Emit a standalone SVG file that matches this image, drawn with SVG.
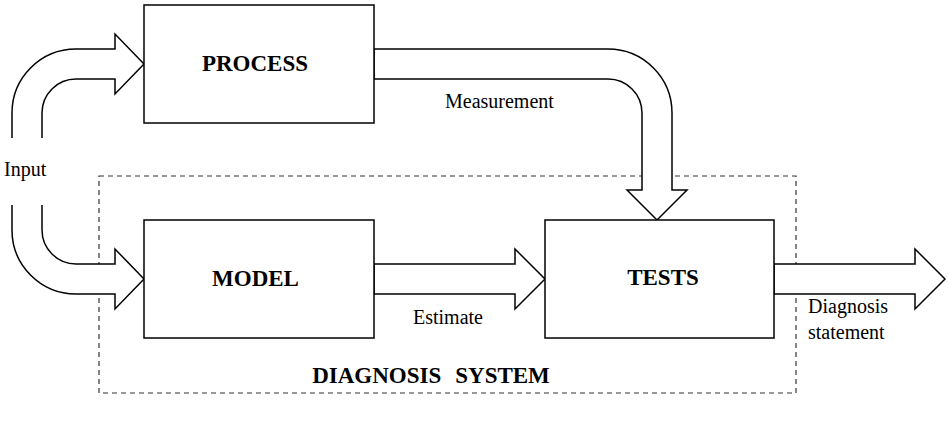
<svg xmlns="http://www.w3.org/2000/svg" width="948" height="422" viewBox="0 0 948 422">
<style>
.box{fill:#fff;stroke:#000;stroke-width:1.5}
.arr{fill:#fff;stroke:#000;stroke-width:1.5;stroke-linejoin:miter}
.dash{fill:none;stroke:#333;stroke-width:1.2;stroke-dasharray:5 4}
.t{font-family:"Liberation Serif","Times New Roman",serif;font-size:20px;fill:#000}
.b{font-family:"Liberation Serif","Times New Roman",serif;font-size:23px;font-weight:bold;fill:#000;text-anchor:middle}
</style>
<rect width="948" height="422" fill="#fff"/>
<g id="diagnosis-system">
<rect class="dash" x="99" y="176" width="697" height="217"/>
<text class="b" x="431" y="383" font-size="22">DIAGNOSIS<tspan dx="14">SYSTEM</tspan></text>
</g>
<g id="connectors">
<path class="arr" d="M12,138 L12,113 A64,64 0 0 1 76,49 L115,49 L115,34 L144,64 L115,94 L115,79 L76,79 A34,34 0 0 0 42,113 L42,138" fill="none"/>
<path class="arr" d="M12,205 L12,230 A64,64 0 0 0 76,294 L115,294 L115,309 L144,279 L115,249 L115,264 L76,264 A34,34 0 0 1 42,230 L42,205" fill="none"/>
<path class="arr" d="M374,49 L608,49 A64,64 0 0 1 672,113 L672,190 L687,190 L657,220 L627,190 L642,190 L642,113 A34,34 0 0 0 608,79 L374,79 Z"/>
<path class="arr" d="M374,264 L515,264 L515,249 L545,279 L515,309 L515,294 L374,294 Z"/>
<path class="arr" d="M774,264 L915,264 L915,249 L945,279 L915,309 L915,294 L774,294 Z"/>
<text class="t" x="4" y="176">Input</text>
<text class="t" x="445" y="108">Measurement</text>
<text class="t" x="413" y="324">Estimate</text>
<text class="t" x="808" y="313">Diagnosis</text>
<text class="t" x="808" y="339">statement</text>
</g>
<g id="process">
<rect class="box" x="144" y="5" width="230" height="118"/>
<text class="b" x="255" y="71">PROCESS</text>
</g>
<g id="model">
<rect class="box" x="144" y="220" width="230" height="118"/>
<text class="b" x="255.5" y="286">MODEL</text>
</g>
<g id="tests">
<rect class="box" x="545" y="220" width="229" height="118"/>
<text class="b" x="663" y="285">TESTS</text>
</g>
</svg>
